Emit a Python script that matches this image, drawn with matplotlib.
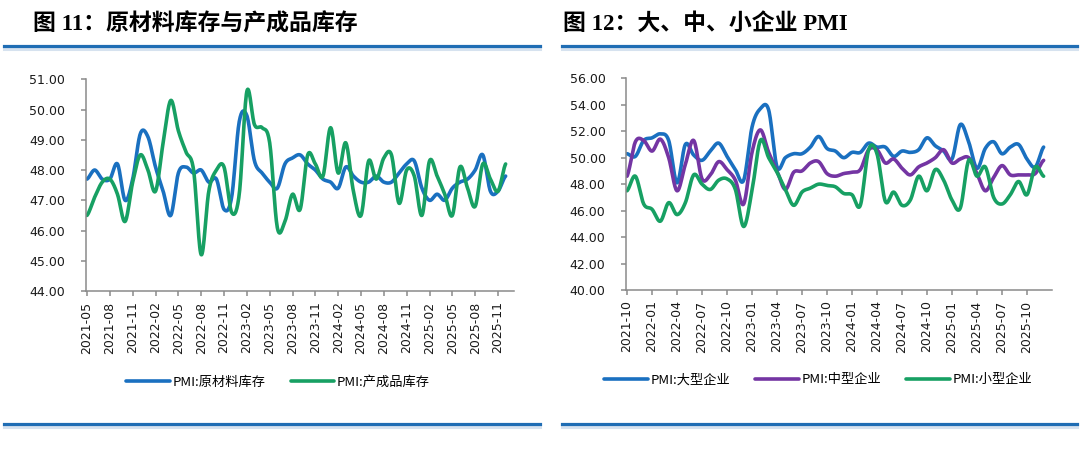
import numpy as np
import pandas as pd
import matplotlib
matplotlib.use('Agg')
import matplotlib.pyplot as plt
from matplotlib.lines import Line2D

plt.rcParams['font.family'] = ['DejaVu Sans', 'Noto Sans CJK SC']

# 图11: 2021-05 ~ 2025-12
inv_months = pd.date_range('2021-05-01', '2025-12-01', freq='MS')
raw_inv = [47.7, 48.0, 47.7, 47.7, 48.2, 47.0, 47.7, 49.2,
           49.1, 48.1, 47.3, 46.5, 47.9, 48.1, 47.9, 48.0, 47.6, 47.7, 46.7, 47.1,
           49.6, 49.8, 48.3, 47.9, 47.6, 47.4, 48.2, 48.4, 48.5, 48.2, 48.0, 47.7,
           47.6, 47.4, 48.1, 47.8, 47.6, 47.6, 47.8, 47.6, 47.6, 47.9, 48.2, 48.3,
           47.4, 47.0, 47.2, 47.0, 47.4, 47.6, 47.7, 48.0, 48.5, 47.3, 47.3, 47.8]
fin_inv = [46.5, 47.1, 47.6, 47.7, 47.2, 46.3, 47.6, 48.5,
           48.0, 47.3, 48.9, 50.3, 49.3, 48.6, 48.0, 45.2, 47.3, 48.0, 48.1, 46.6,
           47.2, 50.6, 49.5, 49.4, 48.9, 46.1, 46.3, 47.2, 46.7, 48.5, 48.2, 47.8,
           49.4, 47.9, 48.9, 47.3, 46.5, 48.3, 47.7, 48.4, 48.5, 46.9, 48.0, 47.8,
           46.5, 48.3, 47.8, 47.2, 46.5, 48.1, 47.4, 46.8, 48.2, 47.7, 47.3, 48.2]

# 图12: 2021-10 ~ 2025-12
size_months = pd.date_range('2021-10-01', '2025-12-01', freq='MS')
pmi_large = [50.3, 50.1, 51.3,
             51.5, 51.8, 51.3, 48.1, 51.0, 50.2, 49.8, 50.5, 51.1, 50.1, 49.1, 48.3,
             52.3, 53.7, 53.6, 49.3, 50.0, 50.3, 50.3, 50.8, 51.6, 50.7, 50.5, 50.0,
             50.4, 50.4, 51.1, 50.8, 50.8, 50.1, 50.5, 50.4, 50.6, 51.5, 50.9, 50.5,
             49.9, 52.5, 51.2, 49.2, 50.7, 51.2, 50.3, 50.8, 51.0, 49.9, 49.3, 50.8]
pmi_medium = [48.6, 51.2, 51.3,
              50.5, 51.4, 50.0, 47.5, 49.5, 51.3, 48.4, 48.7, 49.7, 49.1, 48.3, 46.5,
              50.4, 52.1, 50.4, 49.0, 47.6, 48.9, 49.0, 49.6, 49.7, 48.8, 48.6, 48.8,
              48.9, 49.1, 50.6, 50.6, 49.6, 49.9, 49.2, 48.7, 49.3, 49.6, 50.0, 50.6,
              49.6, 49.9, 50.0, 48.8, 47.5, 48.5, 49.4, 48.7, 48.7, 48.7, 48.8, 49.8]
pmi_small = [47.5, 48.6, 46.5,
             46.1, 45.2, 46.6, 45.7, 46.6, 48.7, 48.0, 47.6, 48.3, 48.4, 47.6, 44.8,
             47.5, 51.3, 50.0, 48.9, 47.6, 46.4, 47.4, 47.7, 48.0, 47.9, 47.8, 47.3,
             47.2, 46.4, 50.6, 50.3, 46.7, 47.4, 46.4, 46.8, 48.6, 47.5, 49.1, 48.3,
             46.8, 46.2, 49.8, 48.6, 49.3, 47.0, 46.5, 47.2, 48.2, 47.2, 49.3, 48.6]

BLUE = '#1a70c0'
GREEN = '#17a063'
PURPLE = '#7435a3'
RULE = '#1f6db4'
SPINE = '#8a8a8a'

W, H = 1080, 451


def smooth(y, n=16):
    # catmull-rom curve through the points, like excel's smoothed line
    y = np.asarray(y, float)
    p = np.concatenate([[y[0]], y, [y[-1]]])
    xs, ys = [], []
    t = np.linspace(0, 1, n, endpoint=False)
    for i in range(len(y) - 1):
        p0, p1, p2, p3 = p[i], p[i + 1], p[i + 2], p[i + 3]
        v = 0.5 * (2 * p1 + (-p0 + p2) * t + (2 * p0 - 5 * p1 + 4 * p2 - p3) * t ** 2
                   + (-p0 + 3 * p1 - 3 * p2 + p3) * t ** 3)
        xs.append(i + t)
        ys.append(v)
    xs.append([len(y) - 1])
    ys.append([y[-1]])
    return np.concatenate(xs), np.concatenate(ys)


def px_axes(fig, l, t, r, b):
    return fig.add_axes([l / W, 1 - b / H, (r - l) / W, (b - t) / H])


def style_axes(ax, months, step, yticks, xlim):
    ax.set_xlim(*xlim)
    ax.set_ylim(yticks[0], yticks[-1])
    ax.set_yticks(yticks)
    ax.set_yticklabels(['%.2f' % v for v in yticks])
    idx = list(range(0, len(months), step))
    ax.set_xticks(idx)
    ax.set_xticklabels([months[i].strftime('%Y-%m') for i in idx], rotation=90)
    for s in ['top', 'right']:
        ax.spines[s].set_visible(False)
    for s in ['left', 'bottom']:
        ax.spines[s].set_color(SPINE)
        ax.spines[s].set_linewidth(1.1)
    ax.tick_params(axis='x', direction='out', length=3.5, width=1.1, color=SPINE,
                   labelsize=9, pad=4, labelcolor='#1a1a1a')
    ax.tick_params(axis='y', direction='out', length=3.5, width=1.1, color=SPINE,
                   labelsize=9, pad=11, labelcolor='#1a1a1a')


def title_block(fig, x0, x1, text):
    fig.text(x0 / W, 1 - 24 / H, text, ha='left', va='center', fontsize=16.5,
             fontweight='bold', family=['Liberation Serif', 'Noto Sans CJK SC'])
    fig.add_artist(Line2D([x1[0] / W, x1[1] / W], [1 - 48.5 / H] * 2, color='#d6e2ef', lw=2.2))
    fig.add_artist(Line2D([x1[0] / W, x1[1] / W], [1 - 46 / H] * 2, color=RULE, lw=2.3))
    fig.add_artist(Line2D([x1[0] / W, x1[1] / W], [1 - 426.5 / H] * 2, color='#d6e2ef', lw=2.2))
    fig.add_artist(Line2D([x1[0] / W, x1[1] / W], [1 - 424 / H] * 2, color=RULE, lw=2.3))


fig = plt.figure(figsize=(W / 100, H / 100), dpi=100)

# 左图
ax1 = px_axes(fig, 85.5, 79.3, 514, 291)
for vals, color, label in [(raw_inv, BLUE, 'PMI:原材料库存'), (fin_inv, GREEN, 'PMI:产成品库存')]:
    sx, sy = smooth(vals)
    ax1.plot(sx, sy, color=color, lw=2.6, label=label, solid_capstyle='round')
style_axes(ax1, inv_months, 3, list(range(44, 52)), (-0.2, 56.1))
ax1.legend(loc='center', bbox_to_anchor=(278 / W, 1 - 382 / H), bbox_transform=fig.transFigure,
           ncol=2, frameon=False, handlelength=3.3, handletextpad=0.2, columnspacing=1.9,
           prop={'family': ['Noto Sans CJK SC'], 'size': 9.5})

# 右图
ax2 = px_axes(fig, 625.7, 78.3, 1051.7, 290)
for vals, color, label in [(pmi_large, BLUE, 'PMI:大型企业'), (pmi_medium, PURPLE, 'PMI:中型企业'),
                           (pmi_small, GREEN, 'PMI:小型企业')]:
    sx, sy = smooth(vals)
    ax2.plot(sx, sy, color=color, lw=2.6, label=label, solid_capstyle='round')
style_axes(ax2, size_months, 3, list(range(40, 57, 2)), (-0.16, 50.97))
ax2.legend(loc='center', bbox_to_anchor=(818 / W, 1 - 380 / H), bbox_transform=fig.transFigure,
           ncol=3, frameon=False, handlelength=3.3, handletextpad=0.2, columnspacing=1.9,
           prop={'family': ['Noto Sans CJK SC'], 'size': 9.5})

title_block(fig, 33, (4, 540), '图 11：原材料库存与产成品库存')
title_block(fig, 563, (562, 1077), '图 12：大、中、小企业 PMI')

fig.savefig('out.png', dpi=100)
